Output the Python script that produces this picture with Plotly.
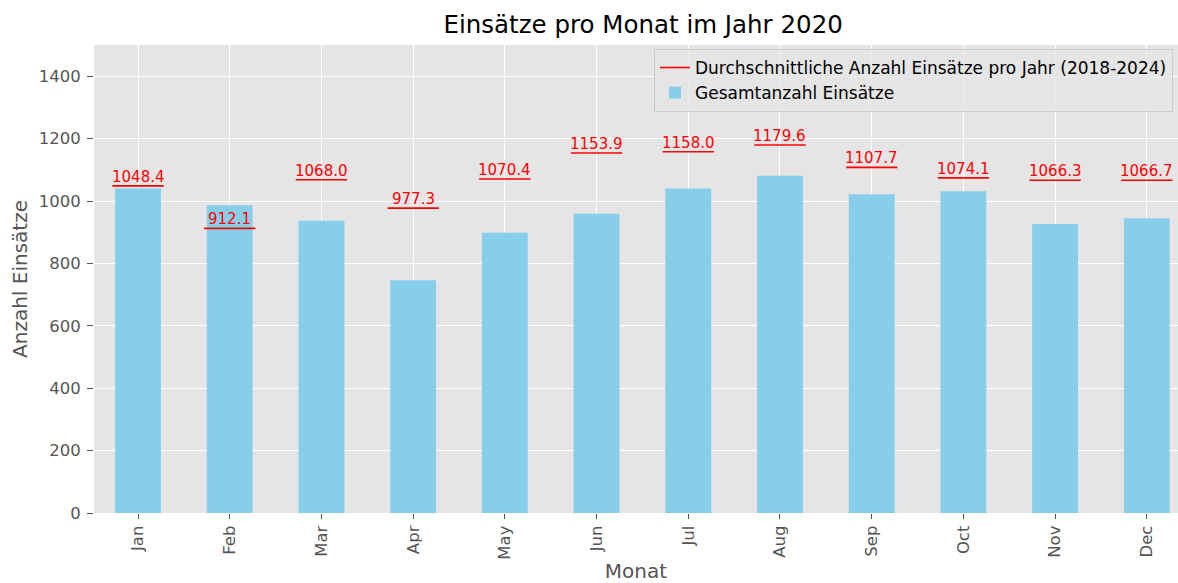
import plotly.graph_objects as go

months = ["Jan", "Feb", "Mar", "Apr", "May", "Jun", "Jul", "Aug", "Sep", "Oct", "Nov", "Dec"]
totals_2020 = [1040, 986, 937, 746, 898, 959, 1040, 1081, 1022, 1031, 926, 945]
avg_2018_2024 = [1048.4, 912.1, 1068.0, 977.3, 1070.4, 1153.9, 1158.0, 1179.6, 1107.7, 1074.1, 1066.3, 1066.7]

idx = list(range(len(months)))
half = 0.28

fig = go.Figure()
fig.add_trace(go.Bar(
    x=idx, y=totals_2020, width=0.5, name="Gesamtanzahl Einsätze",
    marker=dict(color="#87CEEB", line=dict(width=0)), legendrank=2,
))
lx, ly = [], []
for i, v in zip(idx, avg_2018_2024):
    lx += [i - half, i + half, None]
    ly += [v, v, None]
fig.add_trace(go.Scatter(
    x=lx, y=ly, mode="lines", line=dict(color="red", width=1.6),
    name="Durchschnittliche Anzahl Einsätze pro Jahr (2018-2024)", legendrank=1,
))
for i, v in zip(idx, avg_2018_2024):
    fig.add_annotation(x=i, y=v, text=f"{v:.1f}", showarrow=False, yanchor="bottom",
                       yshift=-2, font=dict(color="red", size=15, family="DejaVu Sans"))

fig.update_layout(
    width=1178, height=583,
    margin=dict(l=94, r=0, t=45, b=70),
    paper_bgcolor="white", plot_bgcolor="#E5E5E5",
    font=dict(family="DejaVu Sans", color="#555555", size=16.5),
    title=dict(text="Einsätze pro Monat im Jahr 2020", x=0.546, xanchor="center", y=0.958, yanchor="middle",
               font=dict(size=24.5, color="black")),
    showlegend=True,
    legend=dict(x=0.5166, y=0.9915, xanchor="left", yanchor="top", bgcolor="rgba(229,229,229,0.8)",
                bordercolor="#CCCCCC", borderwidth=1, font=dict(size=17, color="black"),
                tracegroupgap=0),
    bargap=0.5,
)
fig.update_xaxes(
    range=[-0.48, 11.34], tickmode="array", tickvals=idx, ticktext=months, tickangle=-90,
    showgrid=True, gridcolor="white", gridwidth=1, ticks="outside", ticklen=5, tickcolor="#555555",
    automargin=False,
    title=dict(text="Monat", font=dict(size=20, color="#555555"), standoff=16), zeroline=False,
)
fig.update_yaxes(
    range=[0, 1500], tickvals=[0, 200, 400, 600, 800, 1000, 1200, 1400],
    showgrid=True, gridcolor="white", gridwidth=1, ticks="outside", ticklen=6, tickcolor="#555555",
    ticklabelstandoff=3, automargin=False,
    title=dict(text="Anzahl Einsätze", font=dict(size=20, color="#555555"), standoff=5), zeroline=False,
)
fig.write_html("out.html", config={"displayModeBar": False},
               post_script="document.body.style.margin='0';")
